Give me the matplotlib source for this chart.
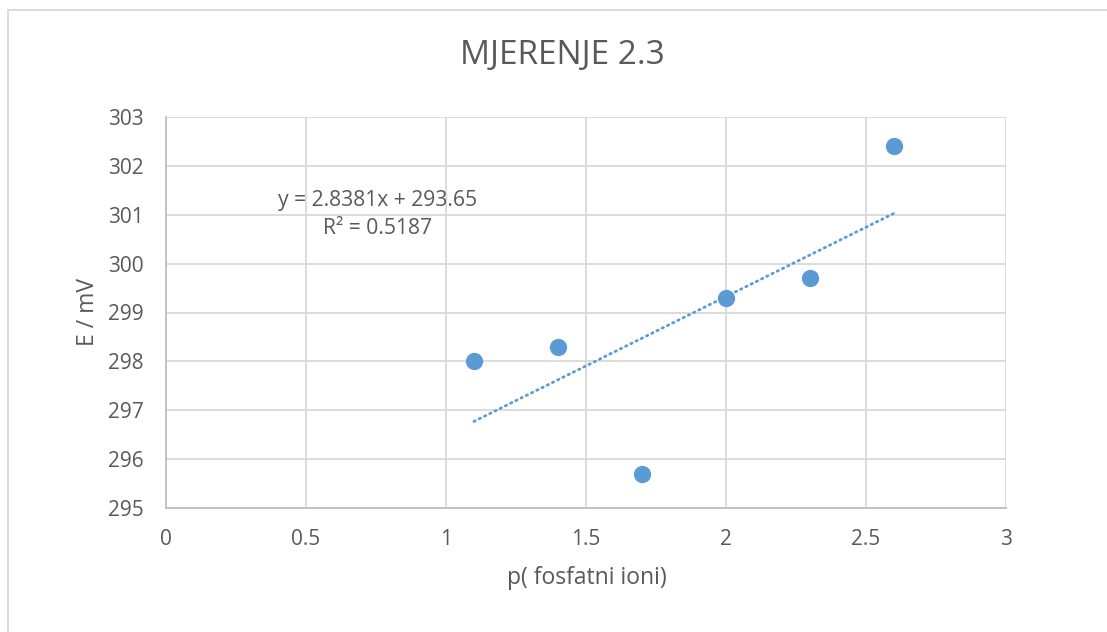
import matplotlib
matplotlib.use("Agg")
import matplotlib.pyplot as plt
import numpy as np
from matplotlib.lines import Line2D

# Data
x_vals = [1.1, 1.4, 1.7, 2.0, 2.3, 2.6]
y_vals = [298.0, 298.3, 295.7, 299.3, 299.7, 302.4]
slope = 2.8381
intercept = 293.65
title = "MJERENJE 2.3"
xlabel = "p( fosfatni ioni)"
ylabel = "E / mV"
x_ticks = [0, 0.5, 1, 1.5, 2, 2.5, 3]
x_ticklabels = ["0", "0.5", "1", "1.5", "2", "2.5", "3"]
y_ticks = [295, 296, 297, 298, 299, 300, 301, 302, 303]
eq_text = "y = 2.8381x + 293.65"
r2_text = "R² = 0.5187"

plt.rcParams['font.family'] = ['Open Sans', 'DejaVu Sans']
txt_col = '#595959'
grid_col = '#D9D9D9'
blue = '#5B9BD5'

fig = plt.figure(figsize=(11.07, 6.32), dpi=100)
W, H = 1107, 632
ax = fig.add_axes([166 / W, 1 - 508 / H, (1006 - 166) / W, (508 - 117) / H])

ax.set_xlim(0, 3)
ax.set_ylim(295, 303)
ax.set_xticks(x_ticks)
ax.set_xticklabels(x_ticklabels)
ax.set_yticks(y_ticks)
ax.grid(True, color=grid_col, linewidth=1.3)
ax.set_axisbelow(True)
for s in ['top', 'right']:
    ax.spines[s].set_visible(False)
for s in ['left', 'bottom']:
    ax.spines[s].set_color('#BFBFBF')
    ax.spines[s].set_linewidth(1.3)
ax.tick_params(length=0, labelsize=15, labelcolor=txt_col)
ax.tick_params(axis='x', pad=15)
ax.tick_params(axis='y', pad=16)

ax.scatter(x_vals, y_vals, s=155, color=blue, zorder=3, linewidths=0)

tx = np.array([min(x_vals), max(x_vals)])
ax.plot(tx, slope * tx + intercept, color=blue, linewidth=2.0,
        linestyle=(0, (0.5, 1.6)), dash_capstyle='round', zorder=2)

ax.text(0.754, 301.30, eq_text, ha='center', va='center', fontsize=15.2, color=txt_col)
ax.text(0.754, 300.71, r2_text, ha='center', va='center', fontsize=15.2, color=txt_col)

fig.text(562 / W, 1 - 55 / H, title, ha='center', va='center', fontsize=24, color=txt_col)
fig.text(587 / W, 1 - 578 / H, xlabel, ha='center', va='center', fontsize=16.5, color=txt_col)
fig.text(88 / W, 1 - 312 / H, ylabel, ha='center', va='center', rotation=90, fontsize=16.5, color=txt_col)

# chart border (left and top visible)
fig.add_artist(Line2D([8 / W, 8 / W], [0, 1 - 10 / H], transform=fig.transFigure, color='#D9D9D9', linewidth=1.3))
fig.add_artist(Line2D([8 / W, 1], [1 - 10 / H, 1 - 10 / H], transform=fig.transFigure, color='#D9D9D9', linewidth=1.3))

fig.savefig("out.png", dpi=100)
